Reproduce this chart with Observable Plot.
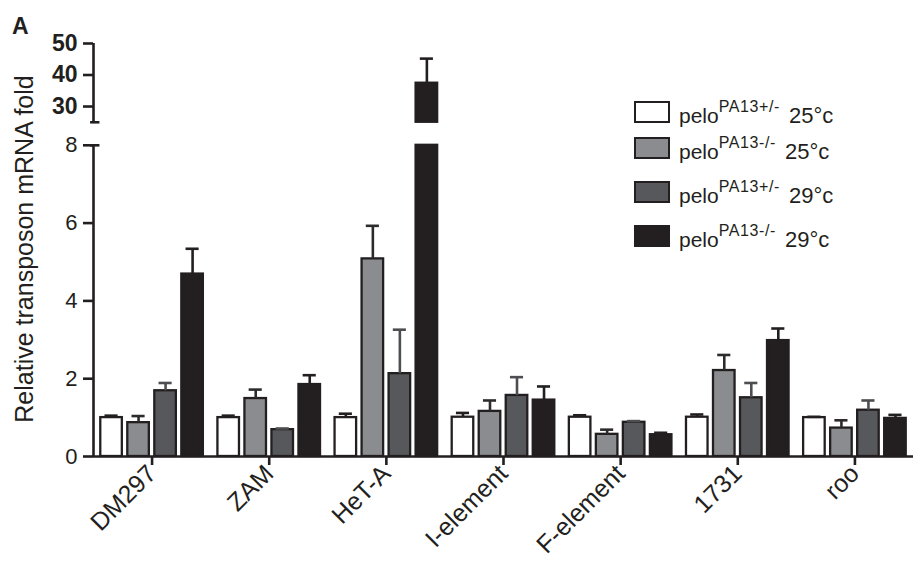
<!DOCTYPE html>
<html>
<head>
<meta charset="utf-8">
<script src="https://cdn.jsdelivr.net/npm/d3@7"></script>
<script src="https://cdn.jsdelivr.net/npm/@observablehq/plot@0.6"></script>
<style>
  html, body { margin: 0; padding: 0; background: #fff; }
  body { font-family: "Liberation Sans", Arial, sans-serif; color: #231f20; }
  #wrap { position: relative; width: 913px; height: 575px; overflow: hidden; }
  #panel { position: absolute; left: 12px; top: 15px; font-size: 23px; font-weight: bold; line-height: 1; }
  #ytitle { position: absolute; left: 24px; top: 249px; font-size: 25px; white-space: nowrap;
            transform: translate(-50%, -50%) rotate(-90deg); line-height: 1; }
  #legend { position: absolute; left: 634px; top: 100px; }
  .row { position: absolute; left: 0; display: flex; align-items: center; white-space: nowrap; }
  .sw { width: 32px; height: 18px; border: 2.5px solid #231f20; margin-right: 9px; }
  .lab { font-size: 21px; line-height: 1; position: relative; top: 4px; }
  .lab sup { font-size: 16px; letter-spacing: 0.6px; position: relative; top: -3px; vertical-align: super; line-height: 0; }
  .temp { margin-left: 9px; font-size: 22px; }
</style>
</head>
<body>
<div id="wrap">
  <div id="chart"></div>
  <div id="panel">A</div>
  <div id="ytitle">Relative transposon mRNA fold</div>
  <div id="legend"></div>
</div>
<script>
// ---- data ----
const categories = ["DM297", "ZAM", "HeT-A", "I-element", "F-element", "1731", "roo"];
const seriesKeys = ["het25", "mut25", "het29", "mut29"];
const seriesGenotype = ["PA13+/-", "PA13-/-", "PA13+/-", "PA13-/-"];
const seriesTemp = ["25\u00b0c", "25\u00b0c", "29\u00b0c", "29\u00b0c"];
const seriesColors = ["#ffffff", "#8b8c8f", "#57585b", "#231f20"];
const errorColors = ["#231f20", "#2e2b2c", "#4d4e51", "#231f20"];

const het25 = [1.0, 1.0, 1.0, 1.01, 1.01, 1.01, 1.0];
const het25Err = [0.05, 0.05, 0.10, 0.11, 0.05, 0.07, 0.02];
const mut25 = [0.87, 1.49, 5.08, 1.16, 0.57, 2.21, 0.73];
const mut25Err = [0.17, 0.23, 0.85, 0.28, 0.12, 0.40, 0.20];
const het29 = [1.69, 0.69, 2.13, 1.57, 0.88, 1.51, 1.19];
const het29Err = [0.20, 0.03, 1.13, 0.47, 0.03, 0.38, 0.25];
const mut29 = [4.69, 1.85, 37.4, 1.45, 0.56, 2.98, 0.98];
const mut29Err = [0.65, 0.24, 7.8, 0.35, 0.05, 0.31, 0.09];

const lowerTicks = [0, 2, 4, 6, 8];
const upperTicks = [30, 40, 50];

// ---- broken y axis ----
const lowerMax = 8, upperMin = 25, upperMax = 50;
const gap = 0.592, upperRatio = 0.081;
const disp = v => v <= lowerMax ? v : lowerMax + gap + (v - upperMin) * upperRatio;
const undisp = d => d <= lowerMax ? d : upperMin + (d - lowerMax - gap) / upperRatio;

// ---- rows ----
const values = [het25, mut25, het29, mut29];
const errors = [het25Err, mut25Err, het29Err, mut29Err];
const barStep = 0.2306, halfW = 0.092, capHalf = 0.056;
const rows = [];
categories.forEach((c, i) => seriesKeys.forEach((s, j) => rows.push({
  cat: c, series: s, j, xc: i + (j - 1.5) * barStep, value: values[j][i], err: errors[j][i]
})));
const segments = rows.flatMap(d => d.value > lowerMax
  ? [{...d, y1: 0, y2: disp(lowerMax)}, {...d, y1: disp(upperMin), y2: disp(d.value)}]
  : [{...d, y1: 0, y2: disp(d.value)}]);

const axisSegments = [{y1: 0, y2: disp(lowerMax)}, {y1: disp(upperMin), y2: disp(upperMax)}];
const ink = "#231f20";

const chart = Plot.plot({
  width: 913,
  height: 575,
  marginLeft: 93,
  marginRight: 0,
  marginTop: 43,
  marginBottom: 119,
  style: {fontFamily: "'Liberation Sans', Arial, sans-serif", color: ink, background: "#fff", overflow: "visible"},
  x: {domain: [-0.5, categories.length - 0.5], axis: null},
  y: {domain: [0, disp(upperMax)], axis: null},
  color: {domain: seriesKeys, range: seriesColors},
  marks: [
    Plot.rect(segments, {x1: d => d.xc - halfW, x2: d => d.xc + halfW, y1: "y1", y2: "y2",
      fill: "series", stroke: ink, strokeWidth: 2.3}),
    Plot.ruleX(rows, {x: "xc", y1: d => disp(d.value), y2: d => disp(d.value + d.err),
      stroke: d => errorColors[d.j], strokeWidth: 2.6}),
    Plot.ruleY(rows, {y: d => disp(d.value + d.err), x1: d => d.xc - capHalf, x2: d => d.xc + capHalf,
      stroke: d => errorColors[d.j], strokeWidth: 2.6}),
    Plot.ruleY([0], {stroke: ink, strokeWidth: 2.6}),
    Plot.ruleX(axisSegments, {x: -0.5, y1: "y1", y2: "y2", stroke: ink, strokeWidth: 2.6}),
    Plot.ruleY([disp(upperMin), disp(lowerMax)], {x1: -0.5 - 0.025, x2: -0.5 + 0.055, stroke: ink, strokeWidth: 2.6}),
    Plot.axisY(lowerTicks.map(disp), {tickFormat: d => String(Math.round(undisp(d))), tickSize: 10, tickPadding: 6,
      fontSize: 22, stroke: ink, fill: ink, strokeWidth: 2.6, label: null}),
    Plot.axisY(upperTicks.map(disp), {tickFormat: d => String(Math.round(undisp(d))), tickSize: 10, tickPadding: 6,
      fontSize: 23, fontWeight: "bold", stroke: ink, fill: ink, strokeWidth: 2.6, label: null}),
    Plot.axisX(categories.map((c, i) => i), {tickFormat: i => categories[i], tickRotate: -45, tickSize: 9,
      tickPadding: 4, fontSize: 25, stroke: ink, fill: ink, strokeWidth: 2.6, label: null})
  ]
});
document.getElementById("chart").appendChild(chart);

// ---- legend ----
const legendTops = [1, 37, 81, 125];
const legend = document.getElementById("legend");
seriesKeys.forEach((s, j) => {
  const row = document.createElement("div");
  row.className = "row";
  row.style.top = legendTops[j] + "px";
  const sw = document.createElement("div");
  sw.className = "sw";
  sw.style.background = seriesColors[j];
  const lab = document.createElement("span");
  lab.className = "lab";
  lab.innerHTML = "pelo<sup>" + seriesGenotype[j] + "</sup><span class='temp'>" + seriesTemp[j] + "</span>";
  row.appendChild(sw);
  row.appendChild(lab);
  legend.appendChild(row);
});
</script>
</body>
</html>
